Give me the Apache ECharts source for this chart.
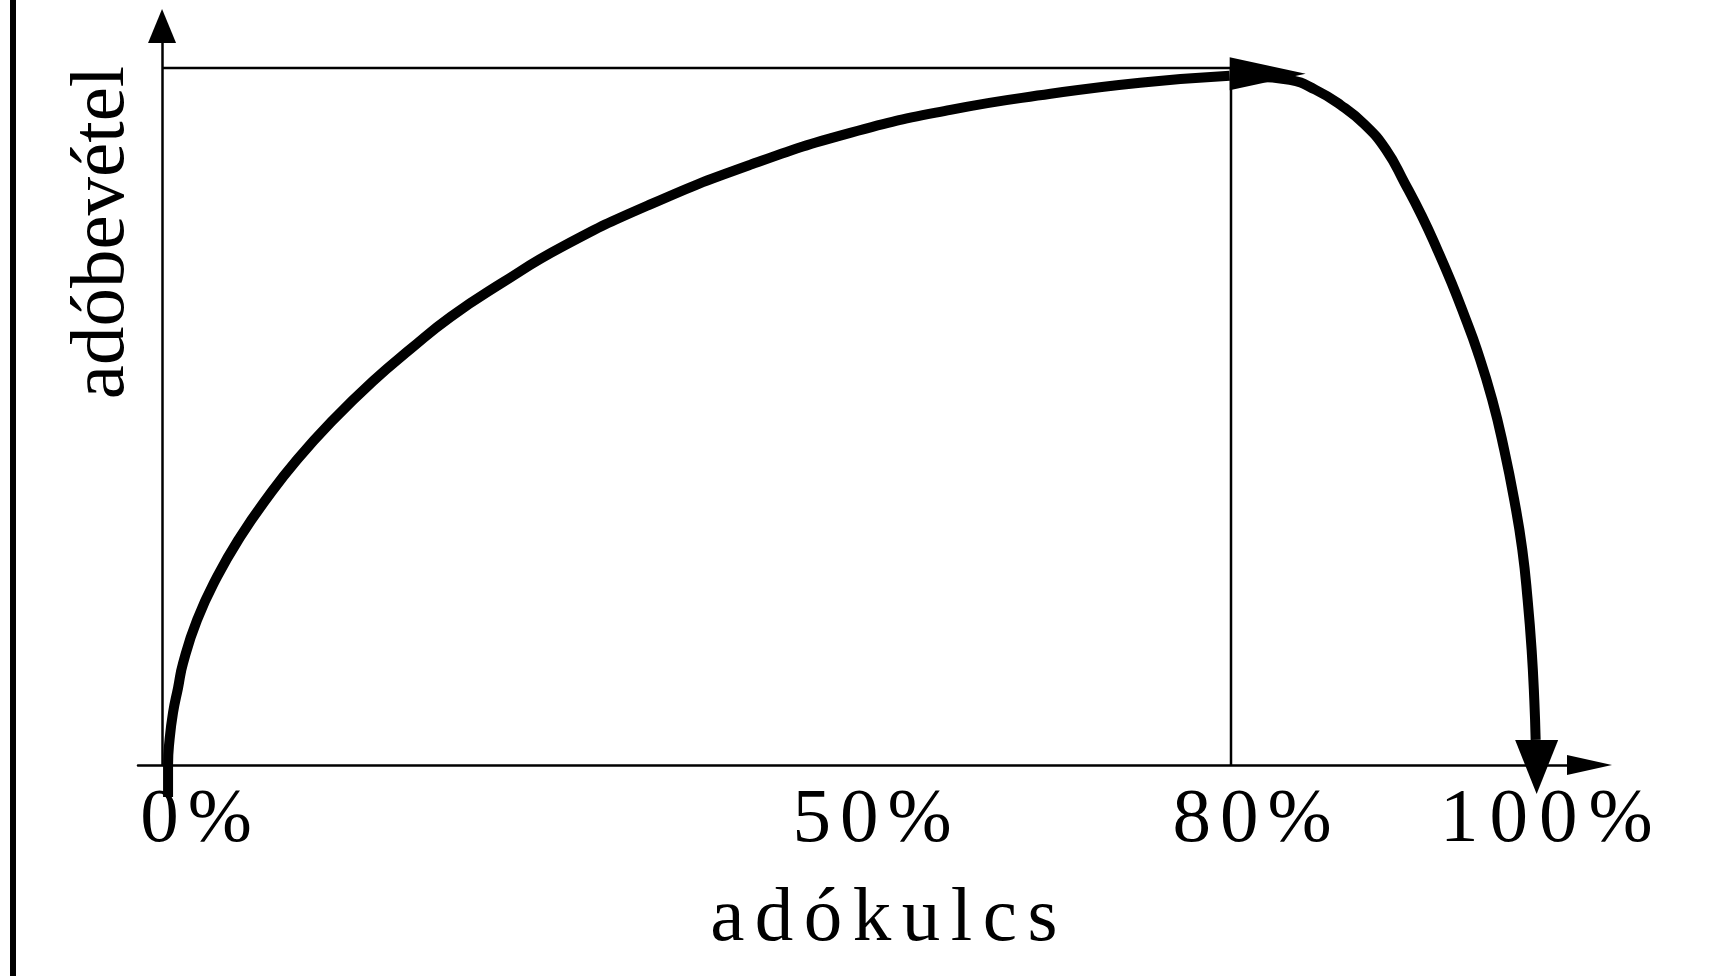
<!DOCTYPE html>
<html>
<head>
<meta charset="utf-8">
<script src="https://cdn.jsdelivr.net/npm/echarts@6/dist/echarts.min.js"></script>
<style>
  html, body { margin: 0; padding: 0; background: #fff; }
  #chart { width: 1731px; height: 976px; }
</style>
</head>
<body>
<div id="chart"></div>
<script>
// tax rate (%) -> tax revenue (share of the maximum, %)
var risingCurve = [
  [0.45, -4.6], [0.45, 0], [0.56, 3.6], [0.82, 7.5], [1.2, 11.1],
  [1.57, 14.6], [2.62, 20.8], [4.12, 27.0], [5.84, 32.7], [7.86, 38.3],
  [10.1, 43.8], [12.8, 49.5], [15.8, 55.1], [18.6, 59.7], [21.6, 64.3],
  [25.3, 69.0], [30.0, 74.4], [36.5, 80.4], [44.0, 86.1], [51.5, 90.7],
  [59.0, 94.0], [66.5, 96.3], [73.2, 97.9], [79.9, 98.9]
];
var fallingCurve = [
  [81.8, 98.75], [84.4, 98.3], [86.3, 96.9], [88.2, 94.7], [90.0, 91.9],
  [91.6, 88.3], [93.0, 83.5], [94.3, 78.7], [95.45, 73.9], [96.5, 69.2],
  [97.5, 64.3], [98.4, 59.6], [99.55, 52.4], [100.45, 45.2], [101.2, 38.0],
  [101.8, 30.9], [102.2, 23.7], [102.5, 16.5], [102.7, 9.3], [102.8, 3.6]
];
var optimum = [80, 100]; // rate, revenue
var xTickValues = [0, 50, 80, 100];
var xTickLabels = ["0%", "50%", "80%", "100%"];
var xName = "adókulcs";
var yName = "adóbevétel";

var FONT = "'Liberation Serif', 'Times New Roman', serif";

// spread letters out: every char becomes its own rich token
function spaced(text, first, rest) {
  return text.split("").map(function (c, i) {
    return "{" + (i === 0 ? first : rest) + "|" + c + "}";
  }).join("");
}

function token(gap, shift) {
  return {
    fontFamily: FONT, fontSize: 77, color: "#000", lineHeight: 80,
    padding: [0, gap / 2, 0, gap / 2 + shift],
  };
}

function withArrow(points, size, rotate, offset) {
  var data = points.slice(0, -1);
  data.push({
    value: points[points.length - 1],
    symbol: "triangle",
    symbolSize: size,
    symbolRotate: rotate,
    symbolOffset: offset,
  });
  return data;
}

// tick labels sit a little right of their ticks in the drawing
var tickRich = {
  c: token(9, 0),
  c3: token(11, 0),
  f0: token(9, 68),
  f1: token(9, 84),
  f2: token(9, 42),
  f3: token(11, 96),
};

var myChart = echarts.init(document.getElementById("chart"));

var option = {
  backgroundColor: "#fff",
  animation: false,
  graphic: [
    {
      type: "rect",
      shape: { x: 10, y: 0, width: 6, height: 976 },
      style: { fill: "#000" },
    },
  ],
  grid: { left: 138, right: 141.5, top: 26, bottom: 211 },
  xAxis: {
    type: "value",
    min: -1.8,
    max: 106.83,
    axisLine: {
      lineStyle: { color: "#000", width: 2.5 },
      symbol: ["none", "triangle"],
      symbolSize: [20, 45],
    },
    axisTick: { show: false },
    splitLine: { show: false },
    axisLabel: {
      customValues: xTickValues,
      margin: 16,
      hideOverlap: false,
      showMinLabel: true,
      showMaxLabel: true,
      formatter: function (v) {
        var i = xTickValues.indexOf(v);
        return spaced(xTickLabels[i], "f" + i, i === 3 ? "c3" : "c");
      },
      rich: tickRich,
    },
    name: spaced(xName, "f", "c"),
    nameLocation: "middle",
    nameGap: 115,
    nameTextStyle: { rich: { c: token(10.5, 0), f: token(10.5, 40) } },
  },
  yAxis: {
    type: "value",
    min: 0,
    max: 106.03,
    axisLine: {
      onZero: true,
      lineStyle: { color: "#000", width: 2.5 },
      symbol: ["none", "triangle"],
      symbolSize: [28, 34],
    },
    axisTick: { show: false },
    splitLine: { show: false },
    axisLabel: { show: false },
    name: yName,
    nameLocation: "middle",
    nameGap: -3,
    nameTextStyle: {
      fontFamily: FONT,
      fontSize: 77,
      color: "#000",
      padding: [0, 0, 0, 326],
    },
  },
  series: [
    {
      type: "line",
      data: [[0, optimum[1]], optimum, [optimum[0], 0]],
      symbol: "none",
      lineStyle: { color: "#000", width: 2.5 },
      silent: true,
    },
    {
      type: "line",
      data: withArrow(risingCurve, [33, 76], -90, [38, -2]),
      smooth: 0.5,
      clip: false,
      symbol: "none",
      showSymbol: true,
      itemStyle: { color: "#000" },
      lineStyle: { color: "#000", width: 10, join: "round" },
      silent: true,
    },
    {
      type: "line",
      data: withArrow(fallingCurve, [43, 54], 180, [1, 27]),
      smooth: 0.5,
      clip: false,
      symbol: "none",
      showSymbol: true,
      itemStyle: { color: "#000" },
      lineStyle: { color: "#000", width: 10, join: "round" },
      silent: true,
    },
  ],
};

option && myChart.setOption(option);
</script>
</body>
</html>
